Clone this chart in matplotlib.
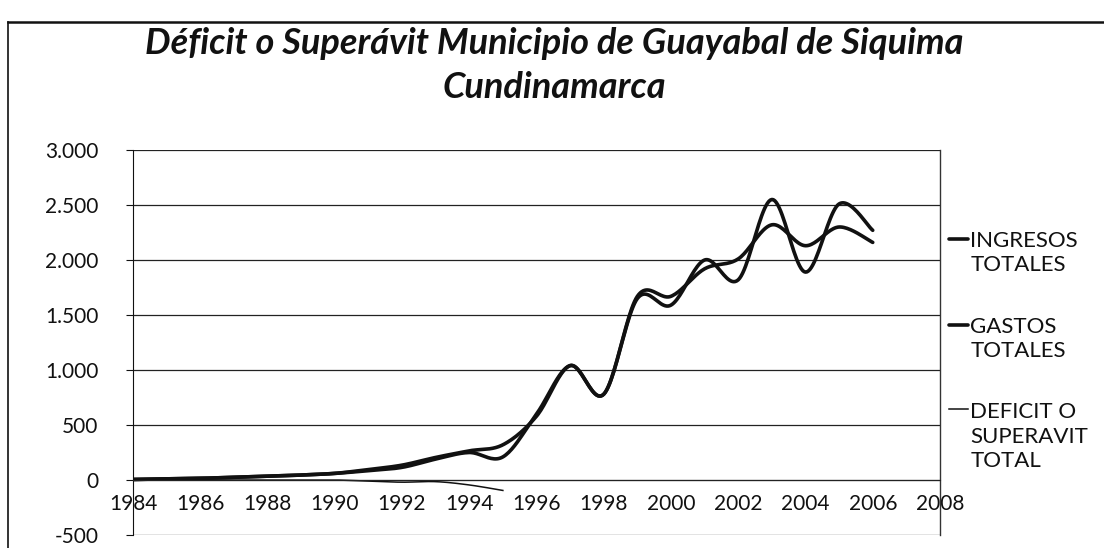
import numpy as np
import matplotlib
matplotlib.use("Agg")
import matplotlib.pyplot as plt
from matplotlib.lines import Line2D
from matplotlib.legend_handler import HandlerLine2D

# ---------------- data ----------------
years = list(range(1984, 2007))
ingresos = [5, 10, 15, 25, 35, 45, 60, 85, 115, 190, 250, 210, 600,
            1040, 780, 1650, 1590, 2000, 1820, 2550, 1890, 2510, 2270]
gastos = [5, 10, 15, 25, 35, 45, 60, 95, 135, 205, 265, 320, 580,
          1040, 780, 1670, 1670, 1920, 2010, 2320, 2130, 2300, 2160]
def_years = list(range(1984, 1996))
deficit = [0, 0, 0, 0, 0, 0, 0, -10, -20, -15, -45, -95]

series_labels = ["INGRESOS\nTOTALES", "GASTOS\nTOTALES", "DEFICIT O\nSUPERAVIT\nTOTAL"]
title_text = "Déficit o Superávit Municipio de Guayabal de Siquima\nCundinamarca"
xticks = list(range(1984, 2009, 2))
yticks = [-500, 0, 500, 1000, 1500, 2000, 2500, 3000]
ytick_labels = ["-500", "0", "500", "1.000", "1.500", "2.000", "2.500", "3.000"]

plt.rcParams['font.family'] = ['Lato', 'DejaVu Sans']

LEG_FS = 16
LEG_LS = 1.275


def smooth(x, y, n=24):
    """Excel-like smoothed line (Catmull-Rom Bezier through the points)."""
    P = np.column_stack([np.asarray(x, float), np.asarray(y, float)])
    Pe = np.vstack([P[0], P, P[-1]])
    t = np.linspace(0, 1, n)[:, None]
    out = []
    for i in range(len(P) - 1):
        p0, p1, p2, p3 = Pe[i], Pe[i + 1], Pe[i + 2], Pe[i + 3]
        c1 = p1 + (p2 - p0) / 6.0
        c2 = p2 - (p3 - p1) / 6.0
        seg = ((1 - t) ** 3) * p1 + 3 * ((1 - t) ** 2) * t * c1 + 3 * (1 - t) * t ** 2 * c2 + t ** 3 * p2
        out.append(seg if i == 0 else seg[1:])
    S = np.vstack(out)
    return S[:, 0], S[:, 1]


class TopLineHandler(HandlerLine2D):
    def __init__(self, nlines, **kw):
        super().__init__(**kw)
        self.nlines = nlines

    def create_artists(self, legend, orig_handle, xdescent, ydescent, width,
                       height, fontsize, trans):
        arts = super().create_artists(legend, orig_handle, xdescent, ydescent,
                                      width, height, fontsize, trans)
        shift = (self.nlines - 1) / 2.0 * fontsize * LEG_LS * 0.98
        for a in arts:
            a.set_ydata(np.asarray(a.get_ydata()) + shift)
        return arts


fig = plt.figure(figsize=(11.04, 5.48), dpi=100)
ax = fig.add_axes([133 / 1104, 1 - 535 / 548, (940 - 133) / 1104, (535 - 150) / 548])

ax.spines['top'].set_visible(False)
ax.spines['right'].set_color('#333333')
ax.spines['right'].set_linewidth(1.0)
ax.spines['bottom'].set_position(('data', 0))
ax.spines['bottom'].set_color('#222222')
ax.spines['left'].set_color('#111111')

sx, sy = smooth(years, ingresos)
l1, = ax.plot(sx, sy, color='#111111', lw=2.6, solid_capstyle='round')
sx, sy = smooth(years, gastos)
l2, = ax.plot(sx, sy, color='#111111', lw=2.6, solid_capstyle='round')
sx, sy = smooth(def_years, deficit)
l3, = ax.plot(sx, sy, color='#111111', lw=1.1)

ax.set_xlim(1984, 2008)
ax.set_ylim(-500, 3000)
ax.set_xticks(xticks)
ax.set_xticklabels([str(v) for v in xticks])
ax.set_yticks(yticks)
ax.set_yticklabels(ytick_labels)
ax.grid(axis='y', color='#222222', lw=0.9)
ax.set_axisbelow(True)

ax.tick_params(axis='y', direction='out', length=5, pad=20, colors='#111111', labelsize=15)
ax.tick_params(axis='x', length=0, pad=10, colors='#111111', labelsize=15)

fig.suptitle(title_text, x=0.502, y=1 - 27 / 548, va='top', fontsize=26, fontweight='bold',
             fontstyle='italic', linespacing=1.4, color='#111111')

leg = ax.legend([l1, l2, l3], series_labels, loc='upper left',
                bbox_to_anchor=(1.011, 0.79), frameon=False, fontsize=LEG_FS,
                borderaxespad=0, borderpad=0,
                handlelength=0.85, handletextpad=0.12, labelspacing=1.86,
                handler_map={l1: TopLineHandler(2), l2: TopLineHandler(2),
                             l3: TopLineHandler(3)})
for t in leg.get_texts():
    t.set_color('#111111')
    t.set_linespacing(LEG_LS)

# chart-area frame (as in the scanned page)
fig.add_artist(Line2D([8 / 1104, 8 / 1104], [0, 1 - 22 / 548], color='#111111', lw=1.2,
                      transform=fig.transFigure))
fig.add_artist(Line2D([8 / 1104, 1], [1 - 22 / 548, 1 - 22 / 548], color='#111111', lw=1.8,
                      transform=fig.transFigure))

fig.savefig("out.png", dpi=100)
